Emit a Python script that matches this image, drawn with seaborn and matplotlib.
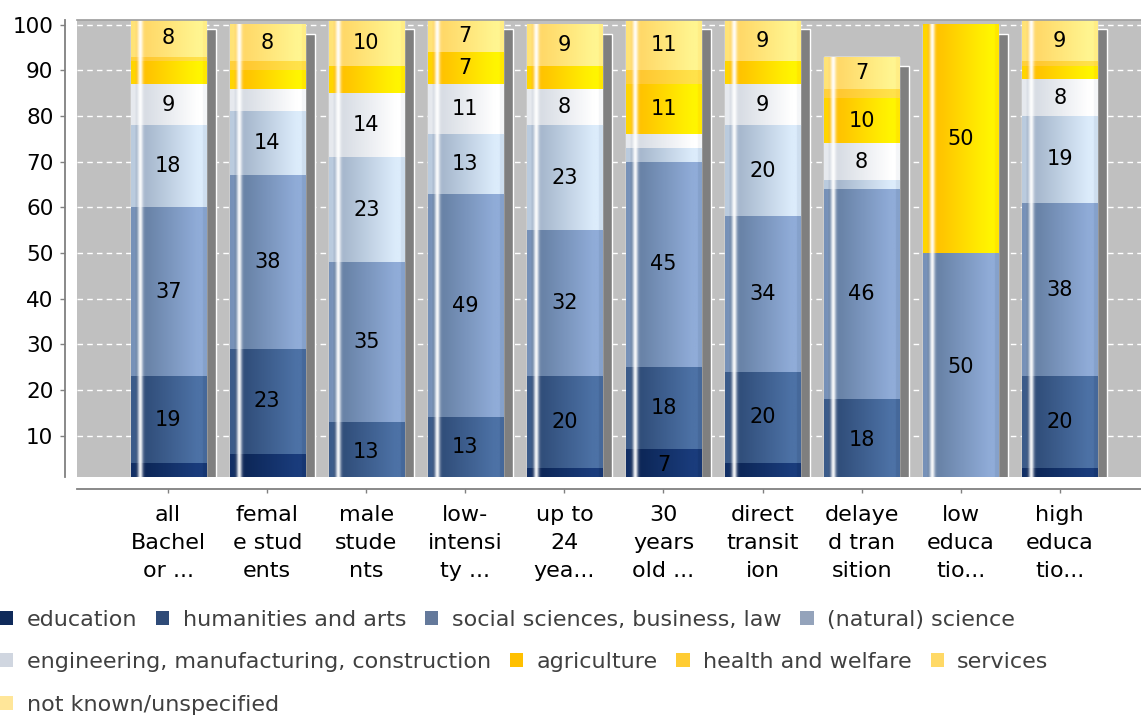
import numpy as np
import pandas as pd
import matplotlib
matplotlib.use("Agg")
import matplotlib.pyplot as plt
import seaborn as sns
from matplotlib.colors import to_rgb
from matplotlib.patches import Patch

# --- données ---
groups = ["all\nBachel\nor ...", "femal\ne stud\nents", "male\nstude\nnts",
          "low-\nintensi\nty ...", "up to\n24\nyea...", "30\nyears\nold ...",
          "direct\ntransit\nion", "delaye\nd tran\nsition", "low\neduca\ntio...",
          "high\neduca\ntio..."]

education = [4, 6, 0, 1, 3, 7, 4, 0, 0, 3]
humanities = [19, 23, 13, 13, 20, 18, 20, 18, 0, 20]
social = [37, 38, 35, 49, 32, 45, 34, 46, 50, 38]
natural = [18, 14, 23, 13, 23, 3, 20, 2, 0, 19]
engineering = [9, 5, 14, 11, 8, 3, 9, 8, 0, 8]
agriculture = [5, 4, 6, 7, 5, 11, 5, 10, 50, 3]
health = [1, 2, 0, 0, 0, 3, 0, 2, 0, 1]
services = [8, 8, 10, 7, 9, 11, 9, 7, 0, 9]
not_known = [0, 0, 0, 0, 0, 0, 0, 0, 0, 0]

names = ["education", "humanities and arts", "social sciences, business, law",
         "(natural) science", "engineering, manufacturing, construction",
         "agriculture", "health and welfare", "services", "not known/unspecified"]
series = [education, humanities, social, natural, engineering,
          agriculture, health, services, not_known]

# couleurs : légende + dégradé (sombre -> clair)
legend_colors = ["#0f2a5a", "#2f4b78", "#64799b", "#94a3bb", "#d0d6e0",
                 "#ffc000", "#ffcc33", "#ffd966", "#ffe699"]
dark_colors = ["#0c2656", "#2f4c78", "#6680a4", "#a4b5cb", "#d6dbe3",
               "#ffc000", "#ffc630", "#ffd766", "#ffe699"]
light_colors = ["#1a3c7c", "#4d72a6", "#90acd8", "#dcecfb", "#ffffff",
                "#fff500", "#ffe24a", "#fff590", "#fff6c4"]


def bar_gradient(dark, light, n=150):
    t = np.linspace(0, 1, n)
    m = np.clip((t - 0.16) / 0.72, 0, 1)
    m[t < 0.06] = 0.4
    m[t > 0.95] = 0.75
    shine = 0.95 * np.exp(-((t - 0.12) / 0.035) ** 2)
    d = np.array(to_rgb(dark))
    l = np.array(to_rgb(light))
    rgb = d[None, :] * (1 - m[:, None]) + l[None, :] * m[:, None]
    rgb = rgb * (1 - shine[:, None]) + shine[:, None]
    return rgb[None, :, :]


sns.set_theme(style="white")
plt.rcParams["font.family"] = ["DejaVu Sans"]

fig = plt.figure(figsize=(11.41, 7.17), dpi=100)
ax = fig.add_axes([0.0675, 0.335, 0.9325, 0.637])
ax.set_facecolor("#c0c0c0")

x = np.arange(len(groups))
totals = np.sum(np.array(series), axis=0)
bar_w = 0.76

# ombres des barres
ax.bar(x + 0.1, totals - 2, width=bar_w, color="#7f7f7f", zorder=1)

cum = np.zeros(len(groups))
for vals, name, lc, dc, hc in zip(series, names, legend_colors, dark_colors, light_colors):
    df = pd.DataFrame({"group": groups, "value": vals})
    sns.barplot(data=df, x="group", y="value", bottom=cum.copy(), width=bar_w,
                color=lc, saturation=1, errorbar=None, ax=ax, zorder=2)
    img = bar_gradient(dc, hc)
    for patch, v in zip(ax.containers[-1], vals):
        if v <= 0:
            continue
        x0, y0 = patch.get_x(), patch.get_y()
        ax.imshow(img, extent=[x0, x0 + patch.get_width(), y0, y0 + patch.get_height()],
                  aspect="auto", interpolation="bilinear", zorder=2.5)
    for i, v in enumerate(vals):
        if v >= 7:
            ax.text(i, cum[i] + v / 2, str(v), ha="center", va="center",
                    fontsize=15, color="black", zorder=5)
    cum += np.array(vals)

ax.set_xlim(-0.92, 9.82)
ax.set_ylim(1, 101)
ax.set_yticks(range(10, 101, 10))
ax.set_xticks(x)
ax.set_xlabel("")
ax.set_ylabel("")

ax.set_axisbelow(True)
ax.yaxis.grid(True, color="white", linestyle=(0, (4, 3)), linewidth=1)
ax.xaxis.grid(False)

for s in ["left", "bottom"]:
    ax.spines[s].set_position(("outward", 9))
    ax.spines[s].set_color("#808080")
    ax.spines[s].set_linewidth(1.3)
ax.spines["right"].set_visible(False)
ax.spines["top"].set_color("#a0a0a0")

ax.tick_params(axis="y", left=True, length=3.5, width=1, color="#808080",
               pad=4.5, labelsize=15.5, labelcolor="black")
ax.tick_params(axis="x", bottom=True, length=3, width=1, color="#808080",
               pad=8, labelsize=16, labelcolor="black")
ax.set_xticklabels(groups, linespacing=1.5)

# légende en trois lignes
handles = [Patch(facecolor=c, edgecolor="none") for c in legend_colors]
rows = [[0, 1, 2, 3], [4, 5, 6, 7], [8]]
for r, yy in zip(rows, [0.135, 0.077, 0.017]):
    leg = fig.legend([handles[i] for i in r], [names[i] for i in r],
                     loc="center left", bbox_to_anchor=(0.0, yy), ncol=len(r),
                     frameon=False, fontsize=16, handlelength=0.6, handleheight=0.6,
                     handletextpad=0.6, columnspacing=0.85, borderpad=0, borderaxespad=0)
    for t in leg.get_texts():
        t.set_color("#404040")

fig.savefig("out.png", dpi=100)
